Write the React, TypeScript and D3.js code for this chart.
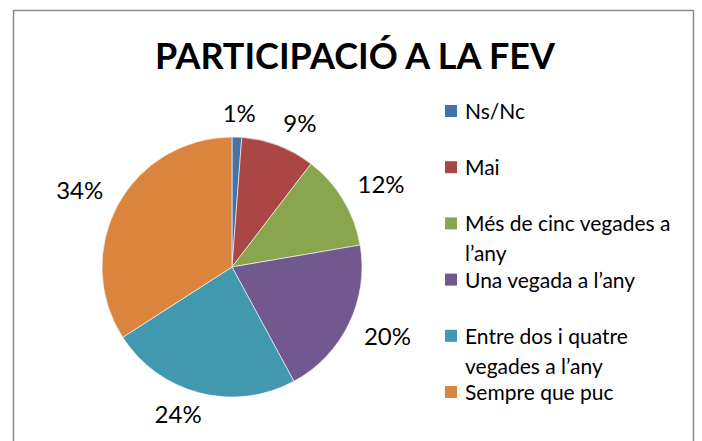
import React from "react";
import * as d3 from "d3";

const categories = [
  "Ns/Nc",
  "Mai",
  "Més de cinc vegades a l’any",
  "Una vegada a l’any",
  "Entre dos i quatre vegades a l’any",
  "Sempre que puc",
];
const values = [1.2, 9.2, 11.9, 19.8, 23.8, 34.1];
const pctLabels = ["1%", "9%", "12%", "20%", "24%", "34%"];
const legendLines = [
  ["Ns/Nc"],
  ["Mai"],
  ["Més de cinc vegades a", "l’any"],
  ["Una vegada a l’any"],
  ["Entre dos i quatre", "vegades a l’any"],
  ["Sempre que puc"],
];
const colors = ["#4572A7", "#AA4643", "#89A54E", "#71588F", "#4198AF", "#DB843D"];

const W = 702;
const H = 441;
const FONT = "Lato, 'Open Sans', sans-serif";

export default function App() {
  const cx = 232;
  const cy = 267;
  const r = 130;
  const pie = d3.pie<number>().sort(null).value((d) => d);
  const arcs = pie(values);
  const arc = d3.arc<d3.PieArcDatum<number>>().innerRadius(0).outerRadius(r);

  const D = r + 17;
  const clamp = (v: number) => Math.max(-1, Math.min(1, v));
  const labelPos = arcs.map((a, i) => {
    const mid = (a.startAngle + a.endAngle) / 2;
    const sx = Math.sin(mid);
    const sy = -Math.cos(mid);
    const hw = pctLabels[i].length * 7.75;
    const hh = 6;
    return [cx + D * sx + hw * clamp(3 * sx), cy + D * sy + hh * clamp(3 * sy)];
  });

  const legendX = 445;
  const legendTextX = 465;
  const legendY = d3.scalePoint<number>().domain(d3.range(categories.length)).range([111, 392]);
  const lineH = 30;

  return (
    <svg width={W} height={H} style={{ position: "absolute", left: 0, top: 0, background: "#fff" }}>
      <rect x={13.5} y={10.5} width={680} height={440} fill="#fff" stroke="#8a8a8a" strokeWidth={1.5} />
      <text
        x={355}
        y={69}
        textAnchor="middle"
        fontFamily={FONT}
        fontWeight="bold"
        fontSize={36}
        textLength={400}
        lengthAdjust="spacingAndGlyphs"
        fill="#000"
      >
        PARTICIPACIÓ A LA FEV
      </text>
      <g transform={`translate(${cx},${cy})`}>
        {arcs.map((a, i) => (
          <path key={i} d={arc(a) || ""} fill={colors[i]} stroke="#fff" strokeWidth={0.6} />
        ))}
      </g>
      {labelPos.map((p, i) => (
        <text
          key={i}
          x={p[0]}
          y={p[1] + 8}
          textAnchor="middle"
          fontFamily={FONT}
          fontSize={24}
          fill="#000"
        >
          {pctLabels[i]}
        </text>
      ))}
      {legendLines.map((lines, i) => {
        const y0 = legendY(i) as number;
        return (
          <g key={i}>
            <rect x={legendX} y={y0 - 6} width={12} height={12} fill={colors[i]} />
            {lines.map((t, j) => (
              <text
                key={j}
                x={legendTextX}
                y={y0 + 8 + j * lineH}
                fontFamily={FONT}
                fontSize={21}
                fill="#000"
              >
                {t}
              </text>
            ))}
          </g>
        );
      })}
    </svg>
  );
}
